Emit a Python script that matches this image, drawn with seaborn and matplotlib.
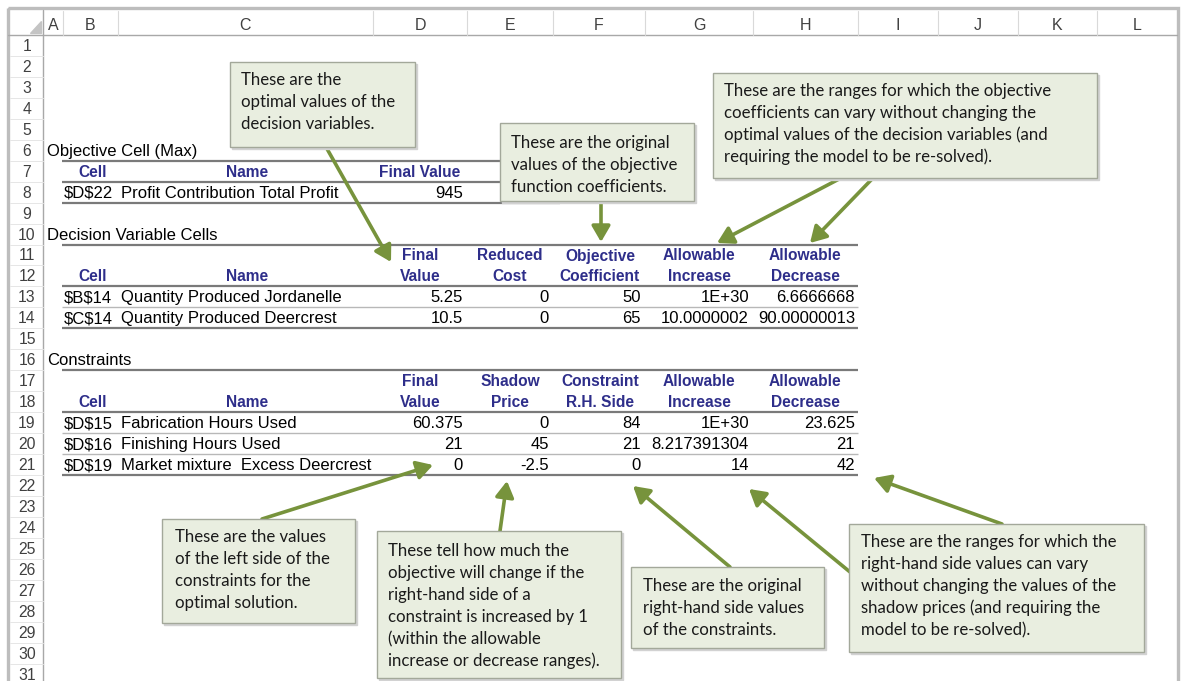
import matplotlib
matplotlib.use("Agg")
import matplotlib.pyplot as plt
from matplotlib.patches import Rectangle, Polygon
import seaborn as sns

# ---------------- data ----------------
col_letters = ["A", "B", "C", "D", "E", "F", "G", "H", "I", "J", "K", "L"]
row_labels = [str(i) for i in range(1, 32)]
section_titles = ["Objective Cell (Max)", "Decision Variable Cells", "Constraints"]

obj_headers = ["Cell", "Name", "Final Value"]
obj_cells = ["$D$22"]
obj_names = ["Profit Contribution Total Profit"]
obj_final = ["945"]

var_header_top = ["Final", "Reduced", "Objective", "Allowable", "Allowable"]
var_header_bottom = ["Value", "Cost", "Coefficient", "Increase", "Decrease"]
var_cells = ["$B$14", "$C$14"]
var_names = ["Quantity Produced Jordanelle", "Quantity Produced Deercrest"]
var_final = ["5.25", "10.5"]
var_reduced = ["0", "0"]
var_objcoef = ["50", "65"]
var_allow_inc = ["1E+30", "10.0000002"]
var_allow_dec = ["6.6666668", "90.00000013"]

con_header_top = ["Final", "Shadow", "Constraint", "Allowable", "Allowable"]
con_header_bottom = ["Value", "Price", "R.H. Side", "Increase", "Decrease"]
con_cells = ["$D$15", "$D$16", "$D$19"]
con_names = ["Fabrication Hours Used", "Finishing Hours Used", "Market mixture  Excess Deercrest"]
con_final = ["60.375", "21", "0"]
con_shadow = ["0", "45", "-2.5"]
con_rhs = ["84", "21", "0"]
con_allow_inc = ["1E+30", "8.217391304", "14"]
con_allow_dec = ["23.625", "21", "42"]

callout_texts = [
    ["These are the", "optimal values of the", "decision variables."],
    ["These are the original", "values of the objective", "function coefficients."],
    ["These are the ranges for which the objective",
     "coefficients can vary without changing the",
     "optimal values of the decision variables (and",
     "requiring the model to be re-solved)."],
    ["These are the values", "of the left side of the", "constraints for the", "optimal solution."],
    ["These tell how much the", "objective will change if the", "right-hand side of a",
     "constraint is increased by 1", "(within the allowable", "increase or decrease ranges)."],
    ["These are the original", "right-hand side values", "of the constraints."],
    ["These are the ranges for which the", "right-hand side values can vary",
     "without changing the values of the", "shadow prices (and requiring the",
     "model to be re-solved)."],
]

# ---------------- styling ----------------
sns.set_theme(style="white")
plt.rcParams["font.family"] = ["Liberation Sans", "DejaVu Sans"]

W, H = 1187, 681
fig = plt.figure(figsize=(W / 100, H / 100), dpi=100)
fig.patch.set_facecolor("white")
ax = fig.add_axes([0, 0, 1, 1])
ax.set_xlim(0, W)
ax.set_ylim(H, 0)
ax.axis("off")
sns.despine(ax=ax, left=True, bottom=True)

NAVY = "#2E2E8A"
GREEN = "#77933C"
BOX_FILL = "#E9EEE0"
BOX_EDGE = "#A3A89A"
TFS = 12.0      # table regular font size
HFS = 11.2      # table bold header font size
CFS = 12.1      # callout font size
CFONT = ["Lato", "DejaVu Sans"]

col_bounds = [8, 43, 63, 118, 373, 467, 553, 645, 753, 858, 938, 1018, 1097, 1177]
ROW1, PITCH = 45.5, 20.95


def rc(n):
    return ROW1 + (n - 1) * PITCH


def rb(n):  # boundary below row n
    return rc(n) + PITCH / 2


# sheet frame and headers
ax.add_patch(Rectangle((8, 8), 1170, 700, fill=False, ec="#BDBDBD", lw=2.4, zorder=1))
ax.plot([8, 1177], [35, 35], color="#A8A8A8", lw=1.0, zorder=1)
ax.plot([43, 43], [10, H], color="#A8A8A8", lw=1.0, zorder=1)
for xb in col_bounds[2:-1]:
    ax.plot([xb, xb], [11, 35], color="#D9D9D9", lw=0.8, zorder=1)
for n in range(1, 32):
    ax.plot([10, 43], [rb(n), rb(n)], color="#E6E6E6", lw=0.7, zorder=1)
ax.add_patch(Polygon([[41, 21], [41, 33], [30, 33]], closed=True, color="#C4C4C4", zorder=2))
for i, letter in enumerate(col_letters):
    xc = (col_bounds[i + 1] + col_bounds[i + 2]) / 2
    ax.text(xc, 25, letter, ha="center", va="center", fontsize=11.5, color="#404040")
for i, lab in enumerate(row_labels):
    ax.text(27, rc(i + 1) + 1, lab, ha="center", va="center", fontsize=11.3, color="#404040")

# table helpers
num_right = [463, 549, 641, 749, 855]
hdr_center = [420, 510, 600, 699, 805]
CELL_X, NAME_X = 64, 121


def hline(y, x0, x1, thick=True):
    if thick:
        ax.plot([x0, x1], [y, y], color="#7A7A7A", lw=1.6, zorder=2, solid_capstyle="butt")
    else:
        ax.plot([x0, x1], [y, y], color="#B8B8B8", lw=1.0, zorder=2, solid_capstyle="butt")


def txt(x, y, s, ha="left", bold=False, color="black"):
    ax.text(x, y + 1, s, ha=ha, va="center", fontsize=HFS if bold else TFS, color=color,
            fontweight="bold" if bold else "normal", zorder=3, parse_math=False)


# Objective cell table
txt(47, rc(6), section_titles[0])
hline(rb(6), 62, 560)
txt(93, rc(7), obj_headers[0], ha="center", bold=True, color=NAVY)
txt(247, rc(7), obj_headers[1], ha="center", bold=True, color=NAVY)
txt(hdr_center[0], rc(7), obj_headers[2], ha="center", bold=True, color=NAVY)
hline(rb(7), 62, 560)
txt(CELL_X, rc(8), obj_cells[0])
txt(NAME_X, rc(8), obj_names[0])
txt(num_right[0], rc(8), obj_final[0], ha="right")
hline(rb(8), 62, 560)

# Decision variable table
txt(47, rc(10), section_titles[1])
hline(rb(10), 62, 858)
for j in range(5):
    txt(hdr_center[j], rc(11), var_header_top[j], ha="center", bold=True, color=NAVY)
    txt(hdr_center[j], rc(12), var_header_bottom[j], ha="center", bold=True, color=NAVY)
txt(93, rc(12), "Cell", ha="center", bold=True, color=NAVY)
txt(247, rc(12), "Name", ha="center", bold=True, color=NAVY)
hline(rb(12), 62, 858)
var_cols = [var_final, var_reduced, var_objcoef, var_allow_inc, var_allow_dec]
for i in range(len(var_cells)):
    r = 13 + i
    txt(CELL_X, rc(r), var_cells[i])
    txt(NAME_X, rc(r), var_names[i])
    for j, col in enumerate(var_cols):
        txt(num_right[j], rc(r), col[i], ha="right")
    hline(rb(r), 62, 858, thick=(i == len(var_cells) - 1))

# Constraints table
txt(47, rc(16), section_titles[2])
hline(rb(16), 62, 858)
for j in range(5):
    txt(hdr_center[j], rc(17), con_header_top[j], ha="center", bold=True, color=NAVY)
    txt(hdr_center[j], rc(18), con_header_bottom[j], ha="center", bold=True, color=NAVY)
txt(93, rc(18), "Cell", ha="center", bold=True, color=NAVY)
txt(247, rc(18), "Name", ha="center", bold=True, color=NAVY)
hline(rb(18), 62, 858)
con_cols = [con_final, con_shadow, con_rhs, con_allow_inc, con_allow_dec]
for i in range(len(con_cells)):
    r = 19 + i
    txt(CELL_X, rc(r), con_cells[i])
    txt(NAME_X, rc(r), con_names[i])
    for j, col in enumerate(con_cols):
        txt(num_right[j], rc(r), col[i], ha="right")
    hline(rb(r), 62, 858, thick=(i == len(con_cells) - 1))

# ---------------- callouts ----------------
boxes = [
    (230, 62, 415, 147, 241, 80),
    (500, 123, 694, 201, 511, 143),
    (713, 73, 1097, 178, 724, 91),
    (162, 519, 355, 623, 175, 537),
    (377, 531, 621, 678, 388, 551),
    (631, 567, 824, 648, 643, 586),
    (849, 524, 1144, 652, 861, 542),
]
LSP = 22.0
for (x0, y0, x1, y1, tx, ty), lines in zip(boxes, callout_texts):
    ax.add_patch(Rectangle((x0 + 2, y0 + 2), x1 - x0, y1 - y0, color="#D2D2D2", zorder=5))
    ax.add_patch(Rectangle((x0, y0), x1 - x0, y1 - y0, facecolor=BOX_FILL,
                           edgecolor=BOX_EDGE, lw=1.0, zorder=6))
    for k, line in enumerate(lines):
        ax.text(tx, ty + k * LSP, line, ha="left", va="center", fontsize=CFS,
                color="#1A1A1A", family=CFONT, zorder=7)

arrows = [
    ((326, 147), (391, 262)),
    ((601, 201), (601, 242)),
    ((841, 178), (717, 243)),
    ((873, 178), (810, 243)),
    ((262, 519), (433, 465)),
    ((500, 531), (507, 481)),
    ((730, 567), (633, 486)),
    ((850, 572), (749, 489)),
    ((1002, 524), (874, 478)),
]
for start, tip in arrows:
    ax.annotate("", xy=tip, xytext=start,
                arrowprops=dict(arrowstyle="-|>,head_length=0.6,head_width=0.35",
                                color=GREEN, lw=2.6, shrinkA=0, shrinkB=0,
                                mutation_scale=16),
                zorder=4)

fig.savefig("out.png", dpi=100, facecolor="white")
